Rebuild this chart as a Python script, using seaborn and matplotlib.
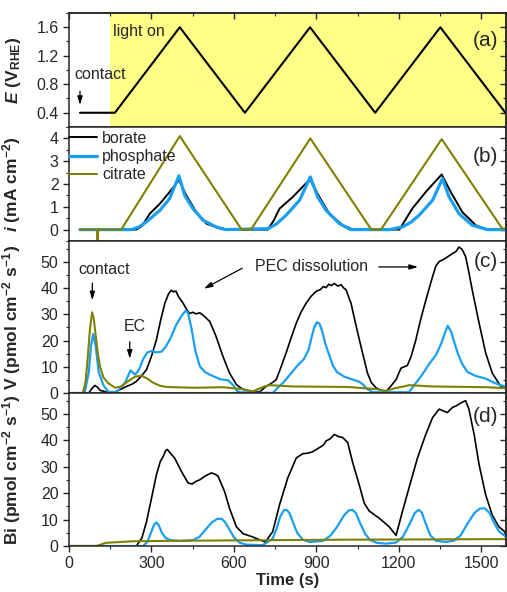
import matplotlib
matplotlib.use("Agg")
import matplotlib.pyplot as plt
import seaborn as sns
from matplotlib.ticker import MultipleLocator

# ---------------- data ----------------
# (a) potential vs time
pot_t = [40, 167, 403, 640, 877, 1114, 1351, 1588]
pot_E = [0.4, 0.4, 1.6, 0.4, 1.6, 0.4, 1.6, 0.4]
light_on_t = 150

# (b) current density
cit_b_t = [40, 102, 104, 106, 190, 403, 628, 662, 878, 1100, 1135, 1356, 1576, 1590]
cit_b_i = [0, 0, -0.9, 0, 0, 4.1, 0, 0, 4.0, 0, 0, 3.97, 0.05, 0.05]
bor_b_t = [40, 245, 265, 294, 331, 366, 400, 427, 463, 500, 549, 589, 723, 745, 766, 814, 877,
           911, 947, 996, 1035, 1202, 1225, 1249, 1298, 1356, 1389, 1431, 1480, 1522, 1590]
bor_b_i = [0, 0, 0.15, 0.7, 1.14, 1.65, 2.17, 1.5, 0.77, 0.26, 0.05, 0, 0, 0.4, 0.92, 1.43, 2.21,
           1.43, 0.7, 0.19, 0, 0, 0.45, 0.92, 1.65, 2.42, 1.65, 0.77, 0.19, 0, 0]
pho_b_t = [40, 229, 255, 282, 331, 366, 400, 421, 451, 488, 535, 569, 724, 755, 790, 839, 878, 905,
           935, 984, 1025, 1167, 1214, 1245, 1274, 1323, 1359, 1383, 1419, 1467, 1522, 1590]
pho_b_i = [0, 0, 0.12, 0.34, 0.85, 1.36, 2.36, 1.5, 0.92, 0.41, 0.12, 0, 0.04, 0.25, 0.63, 1.29, 2.31, 1.43,
           0.85, 0.26, 0, 0, 0.12, 0.33, 0.63, 1.29, 2.24, 1.43, 0.7, 0.19, 0, 0]

# (c) V dissolution rate
bor_c_t = [0, 72, 84, 94, 104, 113, 143, 163, 190, 209, 230, 245, 262, 282, 300, 318, 335, 349,
           362, 372, 380, 389, 397, 415, 430, 439, 450, 462, 476, 490, 512,
           535, 560, 584, 609, 630, 645, 670, 694, 717, 735, 754, 770, 790, 808, 827, 845, 863,
           880, 899, 915, 925, 935, 945, 955, 965, 978, 990, 1000, 1008, 1026,
           1045, 1068, 1086, 1100, 1117, 1135, 1153, 1170, 1190, 1208, 1231, 1245, 1262, 1277,
           1292, 1308, 1323, 1335, 1347, 1360, 1371, 1385, 1395, 1408, 1419, 1430, 1443, 1455,
           1467, 1492, 1516, 1540, 1571, 1590]
bor_c_v = [0, 0, 1.8, 2.9, 2.2, 1.0, 0.2, 0.2, 1.5, 2.5, 3.4, 4.4, 6.3, 8.9, 14, 20.3, 28.5, 34.3,
           37.8, 39.2, 38.6, 38.9, 37, 34.3, 31.5, 30.3, 30.8, 30.2, 30.6, 29.5, 27.3,
           21.6, 14, 7.6, 3.2, 1.6, 1, 0.6, 0.5, 2.5, 3.6, 5.1, 9.5, 15.3, 21, 26.7, 31, 34.3,
           36.8, 38.8, 39.5, 40.6, 40.2, 41.5, 41, 41.8, 40.8, 41.3, 40, 39.4, 34.3,
           25.4, 15.3, 7.6, 4, 2, 1, 0.6, 2.5, 5.1, 9.5, 10.5, 14, 20.3, 27,
           33, 39, 44.5, 48.5, 50.2, 50.8, 51.5, 52.5, 53.2, 54, 55.7, 54.8, 52.1, 46,
           39.4, 26.7, 15.3, 7.6, 2.5, 2]
pho_c_t = [0, 57, 72, 80, 88, 97, 108, 125, 143, 173, 204, 224, 241, 255, 270, 285, 300, 320,
           337, 351, 370, 390, 410, 425, 433, 445, 460, 476, 495, 512, 549, 580, 597, 610, 621,
           741, 760, 778, 800, 830, 855, 872, 882, 892, 902, 911, 920, 932, 945, 960, 975, 1000,
           1030, 1056, 1070, 1085, 1106, 1237, 1262, 1285, 1310, 1335, 1355, 1368, 1378, 1390,
           1400, 1415, 1431, 1450, 1480, 1516, 1545, 1570, 1590]
pho_c_v = [0, 0, 8, 18, 22.5, 18, 8, 3.0, 0.5, 0.3, 4, 8.6, 7, 9, 13, 15.5, 16, 15.5,
           15.8, 17.5, 21, 26, 29.5, 31.5, 30.5, 25, 16, 10.2, 8, 7, 5.3, 4.8, 3, 1, 0.3,
           0, 2, 3.8, 6.5, 10.3, 13, 16.5, 21, 25, 27, 26.5, 24, 19, 15, 10.5, 8, 6.3,
           5.2, 4.3, 3.2, 1.5, 0.3, 0.3, 3.8, 7, 11, 14.5, 19, 23, 25.7, 23.5,
           20, 15, 11, 8, 6.5, 5.5, 4, 3, 2.5]
cit_c_t = [0, 50, 60, 67, 76, 84, 90, 97, 105, 113, 125, 142, 168, 190, 215, 240, 264, 285, 305,
           330, 355, 457, 559, 630, 669, 690, 711, 731, 760, 812, 1015, 1117, 1153, 1185, 1218,
           1237, 1270, 1320, 1522, 1590]
cit_c_v = [0, 0, 4, 12, 24, 30.8, 28.5, 22, 15, 10, 6, 3.8, 2, 2.5, 4.5, 6.2, 6.6, 5.5, 4,
           2.8, 2.3, 2.0, 2.2, 1.5, 0.6, 1.6, 2.5, 3, 2.8, 2.5, 2.3, 1.5, 0.8, 1.8, 2.5,
           3, 2.8, 2.5, 2.2, 1.8]

# (d) Bi dissolution rate
bor_d_t = [0, 245, 265, 282, 300, 318, 332, 343, 352, 358, 366, 384, 409, 433, 448, 462, 476, 495,
           518, 530, 542, 566, 584, 609, 633, 669, 705, 714, 741, 766, 796, 827, 851, 870, 886,
           911, 925, 935, 950, 965, 980, 996, 1014, 1031,
           1056, 1074, 1092, 1129, 1165, 1190, 1213, 1237, 1268, 1298, 1323, 1347, 1362, 1377, 1395,
           1410, 1431, 1443, 1455, 1474, 1492, 1516, 1540, 1564, 1590]
bor_d_v = [0, 0, 3, 9.2, 18, 27, 32, 34, 36.2, 36.6, 35.5, 33.4, 28.3, 23.9, 23.5, 24.5, 25.1, 26.5,
           27.7, 27.3, 26.5, 20.7, 14.3, 7.3, 4.7, 3.4, 1.9, 1.5, 5.4, 15.6, 25.8, 33.4, 35, 35.2, 35.7,
           37.3, 38.2, 39.8, 40.6, 42.3, 41.5, 41.1, 39.2, 32.1,
           23.2, 16.3, 13.3, 10.5, 7.3, 4, 13, 22, 33.4, 42.3, 48.7, 51.9, 51.2, 50.6, 52.5,
           53.2, 54.5, 55.1, 51.9, 42.3, 30.9, 19.4, 11.7, 7.3, 5]
pho_d_t = [0, 270, 285, 298, 310, 318, 326, 338, 352, 370, 403, 451, 475, 500, 520, 540, 556, 568,
           584, 600, 620, 645, 705, 741, 755, 768, 782, 792, 802, 815, 830, 851, 875, 923, 950,
           975, 1000, 1018, 1031, 1044, 1060, 1078, 1095, 1120, 1153, 1190, 1215, 1240, 1258, 1272,
           1283, 1298, 1315, 1335, 1371, 1400, 1425, 1450, 1475, 1495, 1513, 1530, 1548, 1565, 1590]
pho_d_v = [0, 0, 1.5, 5, 8.2, 8.9, 8, 5, 3, 2.2, 1.9, 2.2, 3.5, 6.6, 9, 10.3, 10.3, 9,
           6.2, 3.3, 1.3, 0.5, 0.3, 2.8, 6.5, 11, 13.6, 13.7, 12.5, 9, 5, 2.4, 1.5, 1.9, 3.8,
           7.2, 11.5, 13.5, 13.7, 12.5, 8.5, 4.5, 2.3, 1.2, 0.9, 1.3, 3.5, 8.5, 12.5, 13.7,
           12.8, 8.5, 4, 2, 1.5, 2, 4, 8.5, 12.5, 14.2, 14.3, 12.5, 8.5, 5.5, 3.5]
cit_d_t = [0, 100, 134, 233, 407, 711, 1015, 1320, 1522, 1590]
cit_d_v = [0, 0, 1.2, 1.8, 2.0, 2.2, 2.4, 2.5, 2.6, 2.6]

colors = {"borate": "#000000", "phosphate": "#1a9ff0", "citrate": "#808000"}
x_ticks = [0, 300, 600, 900, 1200, 1500]

# ---------------- style ----------------
sns.set_style("ticks")
plt.rcParams["font.family"] = ["Liberation Sans", "DejaVu Sans"]
plt.rcParams["mathtext.fontset"] = "custom"
plt.rcParams["mathtext.rm"] = "Liberation Sans"
plt.rcParams["mathtext.it"] = "Liberation Sans:italic:bold"
plt.rcParams["mathtext.bf"] = "Liberation Sans:bold"
plt.rcParams["axes.linewidth"] = 1.1
FS = 11.5

fig = plt.figure(figsize=(5.07, 5.92), dpi=100)
gs = fig.add_gridspec(4, 1, height_ratios=[114, 114, 152, 153], hspace=0,
                      left=69 / 507, right=506 / 507, top=1 - 13 / 592, bottom=1 - 546 / 592)
axes = [fig.add_subplot(gs[i]) for i in range(4)]
XMAX = 1590

for k, ax in enumerate(axes):
    ax.set_xlim(0, XMAX)
    ax.xaxis.set_major_locator(MultipleLocator(300))
    ax.xaxis.set_minor_locator(MultipleLocator(150))
    ax.tick_params(axis="y", which="both", left=True, right=False, labelsize=FS, direction="out")
    ax.tick_params(axis="y", which="major", length=4, width=1)
    ax.tick_params(axis="y", which="minor", length=2.5, width=0.8)
    ax.tick_params(axis="x", which="both", bottom=(k == 3), top=False,
                   labelbottom=(k == 3), labeltop=False, labelsize=FS, direction="out")
    ax.tick_params(axis="x", which="major", length=4, width=1)
    ax.tick_params(axis="x", which="minor", length=2.5, width=0.8)
    for s in ax.spines.values():
        s.set_visible(True)
        s.set_linewidth(1.1)


def add_inward(ax, top=False):
    sy = ax.secondary_yaxis("right")
    sy.tick_params(which="both", direction="in", labelright=False)
    sy.tick_params(which="major", length=4, width=1)
    sy.tick_params(which="minor", length=2.5, width=0.8)
    sy.yaxis.set_major_locator(ax.yaxis.get_major_locator())
    sy.yaxis.set_minor_locator(ax.yaxis.get_minor_locator())
    sy.set_yticklabels([])
    if top:
        sx = ax.secondary_xaxis("top")
        sx.tick_params(which="both", direction="in", labeltop=False)
        sx.tick_params(which="major", length=4, width=1)
        sx.tick_params(which="minor", length=2.5, width=0.8)
        sx.xaxis.set_major_locator(MultipleLocator(300))
        sx.xaxis.set_minor_locator(MultipleLocator(150))
        sx.set_xticklabels([])


arrow_kw = dict(arrowstyle="-|>,head_length=0.5,head_width=0.15", color="black", lw=0.9)

# ---------------- (a) ----------------
ax = axes[0]
ax.axvspan(light_on_t, XMAX, color="#ffff88", zorder=0, lw=0)
sns.lineplot(x=pot_t, y=pot_E, ax=ax, color="black", lw=1.5, estimator=None, sort=False)
ax.set_ylim(0.2, 1.8)
ax.yaxis.set_major_locator(MultipleLocator(0.4))
ax.yaxis.set_minor_locator(MultipleLocator(0.2))
ax.set_yticks([0.4, 0.8, 1.2, 1.6])
ax.set_ylabel(r"$\mathit{E}\ \mathbf{(V_{RHE})}$", fontsize=12.5)
ax.text(160, 1.54, "light on", fontsize=FS, ha="left", va="center")
ax.text(113, 0.94, "contact", fontsize=FS, ha="center", va="center")
ax.annotate("", xy=(40, 0.47), xytext=(40, 0.74), arrowprops=arrow_kw)
ax.text(0.954, 0.76, "(a)", transform=ax.transAxes, fontsize=15, ha="center", va="center")

# ---------------- (b) ----------------
ax = axes[1]
sns.lineplot(x=bor_b_t, y=bor_b_i, ax=ax, color=colors["borate"], lw=1.4,
             estimator=None, sort=False, label="borate")
sns.lineplot(x=pho_b_t, y=pho_b_i, ax=ax, color=colors["phosphate"], lw=2.3,
             estimator=None, sort=False, label="phosphate")
sns.lineplot(x=cit_b_t, y=cit_b_i, ax=ax, color=colors["citrate"], lw=1.5,
             estimator=None, sort=False, label="citrate")
ax.set_ylim(-0.5, 4.5)
ax.yaxis.set_major_locator(MultipleLocator(1))
ax.yaxis.set_minor_locator(MultipleLocator(0.5))
ax.set_ylabel(r"$\mathit{i}\ \mathbf{(mA\ cm^{-2})}$", fontsize=12.5)
ax.legend(loc="upper left", frameon=False, fontsize=FS, handlelength=1.7,
          handletextpad=0.35, labelspacing=0.2, borderaxespad=0.1,
          borderpad=0.15, bbox_to_anchor=(-0.008, 1.0))
ax.text(0.954, 0.737, "(b)", transform=ax.transAxes, fontsize=15, ha="center", va="center")

# ---------------- (c) ----------------
ax = axes[2]
sns.lineplot(x=bor_c_t, y=bor_c_v, ax=ax, color=colors["borate"], lw=1.2, estimator=None, sort=False)
sns.lineplot(x=pho_c_t, y=pho_c_v, ax=ax, color=colors["phosphate"], lw=1.6, estimator=None, sort=False)
sns.lineplot(x=cit_c_t, y=cit_c_v, ax=ax, color=colors["citrate"], lw=1.5, estimator=None, sort=False)
ax.set_ylim(0, 58)
ax.yaxis.set_major_locator(MultipleLocator(10))
ax.yaxis.set_minor_locator(MultipleLocator(5))
ax.set_ylabel(r"$\mathbf{V\ (pmol\ cm^{-2}\ s^{-1})}$", fontsize=12.5)
ax.text(127, 47.3, "contact", fontsize=FS, ha="center", va="center")
ax.annotate("", xy=(85, 34.3), xytext=(85, 43), arrowprops=arrow_kw)
ax.text(238, 25.2, "EC", fontsize=FS, ha="center", va="center")
ax.annotate("", xy=(221, 12.0), xytext=(221, 20.6), arrowprops=arrow_kw)
ax.text(675, 48.1, "PEC dissolution", fontsize=FS, ha="left", va="center")
ax.annotate("", xy=(482, 39.3), xytext=(639, 48.1), arrowprops=arrow_kw)
ax.annotate("", xy=(1280, 48.1), xytext=(1117, 48.1), arrowprops=arrow_kw)
ax.text(0.954, 0.862, "(c)", transform=ax.transAxes, fontsize=15, ha="center", va="center")

# ---------------- (d) ----------------
ax = axes[3]
sns.lineplot(x=bor_d_t, y=bor_d_v, ax=ax, color=colors["borate"], lw=1.2, estimator=None, sort=False)
sns.lineplot(x=pho_d_t, y=pho_d_v, ax=ax, color=colors["phosphate"], lw=1.6, estimator=None, sort=False)
sns.lineplot(x=cit_d_t, y=cit_d_v, ax=ax, color=colors["citrate"], lw=1.5, estimator=None, sort=False)
ax.set_ylim(0, 58)
ax.yaxis.set_major_locator(MultipleLocator(10))
ax.yaxis.set_minor_locator(MultipleLocator(5))
ax.set_xticks(x_ticks)
ax.set_ylabel(r"$\mathbf{Bi\ (pmol\ cm^{-2}\ s^{-1})}$", fontsize=12.5)
ax.set_xlabel("Time (s)", fontsize=12, fontweight="bold", labelpad=1)
ax.text(0.954, 0.845, "(d)", transform=ax.transAxes, fontsize=15, ha="center", va="center")

for k, ax in enumerate(axes):
    ax.yaxis.set_label_coords(-0.105, 0.5)
    add_inward(ax, top=(k == 0))

fig.savefig("out.png", dpi=100)
